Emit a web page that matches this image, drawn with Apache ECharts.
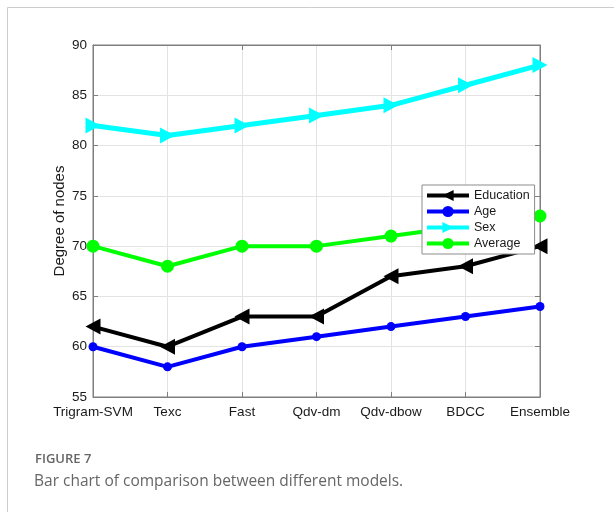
<!DOCTYPE html>
<html>
<head>
<meta charset="utf-8">
<script src="https://cdn.jsdelivr.net/npm/echarts@6/dist/echarts.min.js"></script>
<style>
html,body{margin:0;padding:0;background:#fff;}
#chart{width:614px;height:512px;}
</style>
</head>
<body>
<div id="chart"></div>
<script>
var categories = ['Trigram-SVM', 'Texc', 'Fast', 'Qdv-dm', 'Qdv-dbow', 'BDCC', 'Ensemble'];
var education = [62, 60, 63, 63, 67, 68, 70];
var age = [60, 58, 60, 61, 62, 63, 64];
var sex = [82, 81, 82, 83, 84, 86, 88];
var average = [70, 68, 70, 70, 71, 72, 73];
var yTicks = {min: 55, max: 90, interval: 5};
var figureLabel = 'FIGURE 7';
var captionText = 'Bar chart of comparison between different models.';

var chart = echarts.init(document.getElementById('chart'), null, {renderer: 'canvas'});
var font = 'Liberation Sans, Arial, sans-serif';
var axisGray = '#7f7f7f';
var gridGray = '#e3e3e3';
var textDark = '#1a1a1a';

function baseSeries(name, data, color, symbol, size, rotate, width) {
  return {
    name: name, type: 'line', data: data,
    symbol: symbol, symbolSize: size, symbolRotate: rotate,
    showSymbol: true,
    lineStyle: {color: color, width: width},
    itemStyle: {color: color, borderWidth: 0},
    emphasis: {disabled: true},
    clip: false,
    animation: false
  };
}

var option = {
  animation: false,
  graphic: [
    {type: 'polyline', shape: {points: [[7.5, 512], [7.5, 7.5], [614, 7.5]]},
     style: {stroke: '#cccccc', lineWidth: 1, fill: null}, silent: true},
    {type: 'text', left: 35, top: 453,
     style: {text: figureLabel, font: '600 13px "Open Sans", sans-serif', fill: '#666666'}},
    {type: 'text', left: 34, top: 474,
     style: {text: captionText, font: '15.5px "Open Sans", sans-serif', fill: '#666666'}}
  ],
  grid: {left: 93, top: 45, width: 447, height: 352, show: true,
         borderColor: axisGray, borderWidth: 1, backgroundColor: '#fff'},
  legend: {
    orient: 'vertical', left: 422, top: 185,
    data: ['Education', 'Age', 'Sex', 'Average'],
    itemWidth: 42, itemHeight: 14, itemGap: 3,
    padding: [4, 5, 4, 3],
    backgroundColor: '#ffffff', borderColor: '#8c8c8c', borderWidth: 1, borderRadius: 0,
    textStyle: {fontFamily: font, fontSize: 12.5, color: textDark},
    lineStyle: {width: 4},
    symbolRotate: 'inherit',
    selectedMode: false,
    z: 10
  },
  xAxis: [{
    type: 'category', data: categories, boundaryGap: false,
    axisLine: {lineStyle: {color: axisGray}},
    axisTick: {inside: true, length: 5, alignWithLabel: true, lineStyle: {color: axisGray}},
    axisLabel: {fontFamily: font, fontSize: 13.5, color: textDark, margin: 8, interval: 0},
    splitLine: {show: true, lineStyle: {color: gridGray}}
  }, {
    type: 'category', data: categories, boundaryGap: false, position: 'top',
    axisLine: {lineStyle: {color: axisGray}},
    axisTick: {inside: true, length: 5, lineStyle: {color: axisGray}},
    axisLabel: {show: false}, splitLine: {show: false}
  }],
  yAxis: [{
    type: 'value', min: yTicks.min, max: yTicks.max, interval: yTicks.interval,
    name: 'Degree of nodes', nameLocation: 'middle', nameGap: 26, nameMoveOverlap: false,
    nameTextStyle: {fontFamily: font, fontSize: 15, color: textDark},
    axisLine: {show: true, lineStyle: {color: axisGray}},
    axisTick: {show: true, inside: true, length: 5, lineStyle: {color: axisGray}},
    axisLabel: {fontFamily: font, fontSize: 13.5, color: textDark, margin: 6},
    splitLine: {show: true, lineStyle: {color: gridGray}}
  }, {
    type: 'value', min: yTicks.min, max: yTicks.max, interval: yTicks.interval, position: 'right',
    axisLine: {show: true, lineStyle: {color: axisGray}},
    axisTick: {show: true, inside: true, length: 5, lineStyle: {color: axisGray}},
    axisLabel: {show: false}, splitLine: {show: false}
  }],
  series: [
    baseSeries('Education', education, '#000000', 'triangle', [16, 15], 90, 4),
    baseSeries('Age', age, '#0000ff', 'circle', 9, 0, 4),
    baseSeries('Sex', sex, '#00ffff', 'triangle', [16, 15], -90, 5),
    baseSeries('Average', average, '#00ff00', 'circle', 13, 0, 4)
  ]
};
chart.setOption(option);
</script>
</body>
</html>
